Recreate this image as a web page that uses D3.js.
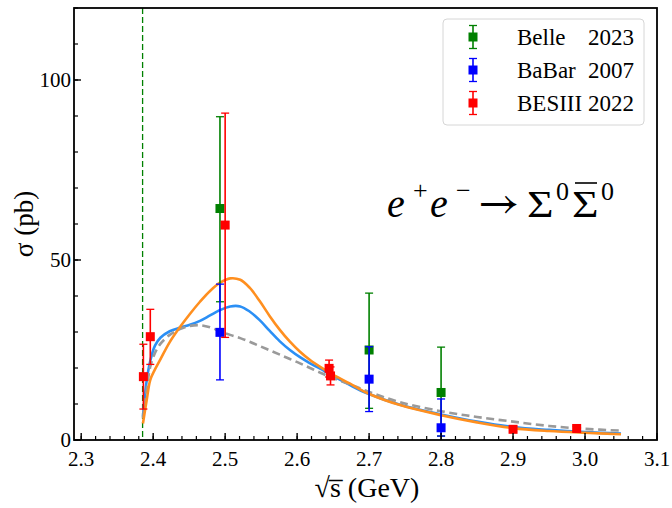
<!DOCTYPE html>
<html><head><meta charset="utf-8"><script src="https://cdn.jsdelivr.net/npm/d3@7"></script></head>
<body style="margin:0">
<svg id="s" width="672" height="508"></svg>
<script>
// ---------- data ----------
const threshold = 2.3853;

// model curves
const curveE = [2.3858, 2.391, 2.396, 2.4025, 2.41, 2.423, 2.437, 2.451, 2.465, 2.479, 2.493, 2.507, 2.521, 2.534, 2.548, 2.562, 2.576, 2.59, 2.604, 2.618, 2.632, 2.646, 2.673, 2.698, 2.743, 2.8, 2.85, 2.9, 2.95, 3.0, 3.05];
const orangeFit = [4.6, 11.1, 16.7, 19.6, 22.4, 27.2, 31.3, 35.0, 38.4, 41.4, 43.7, 44.9, 44.5, 42.3, 38.6, 34.4, 30.6, 27.3, 24.5, 22.2, 20.3, 18.6, 15.7, 13.0, 9.7, 6.9, 4.9, 3.3, 2.5, 2.0, 1.6];
const blueFit   = [6.5, 16.5, 22.0, 26.2, 28.4, 30.2, 31.2, 32.0, 33.1, 34.6, 36.1, 37.1, 37.1, 35.7, 33.3, 30.3, 27.4, 25.0, 23.0, 21.3, 19.8, 18.2, 15.3, 12.9, 9.8, 7.1, 5.1, 3.6, 2.8, 2.2, 1.8];
const grayFit   = [6.0, 14.0, 20.4, 24.2, 26.7, 29.2, 30.8, 31.7, 31.9, 31.3, 30.2, 29.2, 28.3, 27.3, 26.1, 24.9, 23.7, 22.5, 21.3, 20.0, 18.7, 17.5, 15.5, 13.5, 10.5, 8.0, 6.4, 5.1, 3.9, 3.1, 2.6];

// measurements: energy, sigma, error up, error down
const belleE = [2.4928, 2.7, 2.8];
const belleS = [64.3, 25.0, 13.2];
const belleUp = [25.5, 15.8, 12.6];
const belleDn = [25.9, 16.2, 12.1];

const babarE = [2.4928, 2.7, 2.8];
const babarS = [29.9, 16.9, 3.4];
const babarUp = [13.4, 9.0, 8.0];
const babarDn = [13.2, 9.0, 2.3];

const besE = [2.3864, 2.396, 2.5, 2.6444, 2.6464, 2.9, 2.9884];
const besS = [17.6, 28.7, 59.7, 19.9, 17.8, 2.97, 3.2];
const besUp = [9.0, 7.6, 31.1, 2.3, 2.5, 0.6, 0.6];
const besDn = [9.0, 7.7, 31.2, 2.4, 2.5, 0.6, 0.6];

const xTicks = [2.3, 2.4, 2.5, 2.6, 2.7, 2.8, 2.9, 3.0, 3.1];
const yTicks = [0, 50, 100];
const legendLabels = [["Belle", "2023"], ["BaBar", "2007"], ["BESIII", "2022"]];

// ---------- drawing ----------
const fam = "'Liberation Serif'";
const svg = d3.select("#s");
const L = 74, R = 657, T = 8, B = 440;
const x = d3.scaleLinear().domain([2.29, 3.1]).range([L, R]);
const y = d3.scaleLinear().domain([0, 120]).range([B, T]);

const COL = { green: "#008000", blue: "#0000ff", red: "#ff0000",
              orange: "#ff8f1f", sky: "#2b8ff5", gray: "#9a9a9a" };

function txt(px, py, s, size, anchor, extra) {
  return svg.append("text").attr("x", px).attr("y", py).attr("font-size", size)
    .attr("style", "font-family:" + fam + (extra ? ";" + extra : ""))
    .attr("text-anchor", anchor || "start").text(s);
}

xTicks.forEach(v => txt(x(v), B + 26, d3.format(".1f")(v), 21, "middle"));
yTicks.forEach(v => txt(L - 3, y(v) + 7, String(v), 21, "end"));
txt(0, 0, "σ (pb)", 27, "middle").attr("x", null).attr("y", null)
  .attr("transform", "translate(33,224) rotate(-90)");
txt(367, 497, "√s\u0305 (GeV)", 28, "middle");

// legend
const legCols = [COL.green, COL.blue, COL.red];
svg.append("rect").attr("x", 443).attr("y", 19).attr("width", 201).attr("height", 106)
  .attr("rx", 4).attr("fill", "#fff").attr("fill-opacity", 0.85)
  .attr("stroke", "#d6d6d6").attr("stroke-width", 1);
legendLabels.forEach((lab, i) => {
  const cy = 37 + i * 33;
  txt(517, cy + 8, lab[0], 23);
  txt(634, cy + 8, lab[1], 23, "end");
});

// annotation
const base = 217;
txt(387, base, "e", 40, "start", "font-style:italic");
txt(413, base - 18, "+", 26);
txt(430, base, "e", 40, "start", "font-style:italic");
txt(456, base - 18, "−", 26);
svg.append("text").attr("x", 478).attr("y", base - 1).attr("font-size", 44)
  .attr("style", "font-family:'STIX Two Math'").text("→");
txt(527, base, "Σ", 38).attr("transform", "translate(527,0) scale(1.2,1) translate(-527,0)");
txt(556, base - 17, "0", 26);
txt(572, base, "Σ", 38).attr("transform", "translate(572,0) scale(1.2,1) translate(-572,0)");
txt(601, base - 17, "0", 26);
svg.append("line").attr("x1", 575).attr("x2", 597).attr("y1", 183).attr("y2", 183)
  .attr("stroke", "#000").attr("stroke-width", 1.6);

// plot marks
const plot = svg.append("g");
plot.append("clipPath").attr("id", "clip")
  .append("rect").attr("x", L).attr("y", T).attr("width", R - L).attr("height", B - T);

plot.append("line")
  .attr("x1", x(threshold)).attr("x2", x(threshold))
  .attr("y1", y(120)).attr("y2", y(0))
  .attr("stroke", COL.green).attr("stroke-width", 1.3)
  .attr("stroke-dasharray", "6,3");

const line = d3.line().curve(d3.curveCatmullRom.alpha(0.5));
function drawCurve(vals, color, dash, w) {
  plot.append("path")
    .attr("d", line(curveE.map((e, i) => [x(e), y(vals[i])])))
    .attr("fill", "none").attr("stroke", color).attr("stroke-width", w)
    .attr("stroke-dasharray", dash)
    .attr("clip-path", "url(#clip)");
}
drawCurve(blueFit, COL.sky, null, 2.6);
drawCurve(grayFit, COL.gray, "8,4.5", 2.6);
drawCurve(orangeFit, COL.orange, null, 2.6);

function errMark(g, cx, cyVal, top, bot, color) {
  g.append("line").attr("x1", cx).attr("x2", cx).attr("y1", top).attr("y2", bot)
    .attr("stroke", color).attr("stroke-width", 1.6);
  [top, bot].forEach(yy => g.append("line")
    .attr("x1", cx - 4).attr("x2", cx + 4).attr("y1", yy).attr("y2", yy)
    .attr("stroke", color).attr("stroke-width", 1.3));
  g.append("rect").attr("x", cx - 4.5).attr("y", cyVal - 4.5)
    .attr("width", 9).attr("height", 9).attr("fill", color);
}
function drawErr(E, S, Up, Dn, color) {
  const g = plot.append("g").attr("clip-path", "url(#clip)");
  E.forEach((e, i) => errMark(g, x(e), y(S[i]), y(S[i] + Up[i]), y(S[i] - Dn[i]), color));
}
drawErr(belleE, belleS, belleUp, belleDn, COL.green);
drawErr(babarE, babarS, babarUp, babarDn, COL.blue);
drawErr(besE, besS, besUp, besDn, COL.red);

// legend markers
const lgm = svg.append("g");
legCols.forEach((c, i) => { const cy = 37 + i * 33; errMark(lgm, 473, cy, cy - 11.5, cy + 11.5, c); });

// ticks
const ax = svg.append("g");
d3.range(2.3, 3.1001, 0.02).forEach(v => ax.append("line").attr("x1", x(v)).attr("x2", x(v))
  .attr("y1", B).attr("y2", B - 4).attr("stroke", "#000").attr("stroke-width", 1.2));
xTicks.forEach(v => ax.append("line").attr("x1", x(v)).attr("x2", x(v))
  .attr("y1", B).attr("y2", B - 7).attr("stroke", "#000").attr("stroke-width", 1.4));
d3.range(0, 121, 10).forEach(v => ax.append("line").attr("x1", L).attr("x2", L + 4)
  .attr("y1", y(v)).attr("y2", y(v)).attr("stroke", "#000").attr("stroke-width", 1.2));
yTicks.forEach(v => ax.append("line").attr("x1", L).attr("x2", L + 7)
  .attr("y1", y(v)).attr("y2", y(v)).attr("stroke", "#000").attr("stroke-width", 1.4));

// frame
svg.append("rect").attr("x", L).attr("y", T).attr("width", R - L).attr("height", B - T)
  .attr("fill", "none").attr("stroke", "#000").attr("stroke-width", 1.8);
</script>
</body>
</html>
